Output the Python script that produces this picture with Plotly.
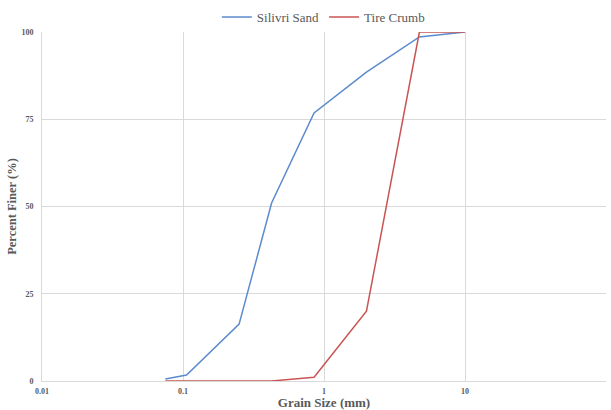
import plotly.graph_objects as go

# Data
sand_size = [0.075, 0.106, 0.25, 0.425, 0.85, 2.0, 4.75, 10]
sand_finer = [0.6, 1.7, 16.3, 51.0, 76.8, 88.5, 98.6, 100]
crumb_size = [0.075, 0.106, 0.25, 0.425, 0.85, 2.0, 4.75, 10]
crumb_finer = [0, 0, 0, 0, 1.1, 20.0, 100, 100]

x_ticks = [0.01, 0.1, 1, 10, 100]
x_ticktext = ["0.01", "0.1", "1", "10", "100"]
y_ticks = [0, 25, 50, 75, 100]
y_ticktext = ["0", "25", "50", "75", "100"]

font_family = "Liberation Serif, Times New Roman, serif"
grey = "#595959"

fig = go.Figure()
fig.add_trace(go.Scatter(x=sand_size, y=sand_finer, mode="lines", name="Silivri Sand",
                         line=dict(color="#5b8bcc", width=1.5)))
fig.add_trace(go.Scatter(x=crumb_size, y=crumb_finer, mode="lines", name="Tire Crumb",
                         line=dict(color="#c85553", width=1.5)))

fig.update_layout(
    width=611, height=410,
    margin=dict(l=42, r=5, t=32, b=29, autoexpand=False),
    paper_bgcolor="white", plot_bgcolor="white",
    font=dict(family=font_family, color=grey),
    legend=dict(orientation="h", x=0.31, xanchor="left", y=1.0, yanchor="bottom",
                font=dict(size=13, family=font_family, color=grey),
                itemwidth=30, tracegroupgap=0),
    showlegend=True,
)
fig.update_xaxes(type="log", range=[-2, 2], tickvals=x_ticks,
                 ticktext=["<b>%s</b>" % t for t in x_ticktext],
                 automargin=False,
                 showgrid=True, gridcolor="#d9d9d9", gridwidth=1,
                 showline=True, linecolor="#d9d9d9", zeroline=False,
                 ticks="", tickfont=dict(size=8, family=font_family, color=grey),
                 ticklabelstandoff=2,
                 title=dict(text="<b>Grain Size (mm)</b>", standoff=1,
                            font=dict(size=13, family=font_family, color=grey)))
fig.update_yaxes(range=[0, 100], tickvals=y_ticks,
                 ticktext=["<b>%s</b>" % t for t in y_ticktext],
                 automargin=False,
                 showgrid=True, gridcolor="#d9d9d9", gridwidth=1,
                 showline=True, linecolor="#d9d9d9", zeroline=False,
                 ticks="", tickfont=dict(size=8, family=font_family, color=grey),
                 ticklabelstandoff=6,
                 title=dict(text="<b>Percent Finer (%)</b>", standoff=2,
                            font=dict(size=12.5, family=font_family, color=grey)))

fig.write_html("out.html", config={"displayModeBar": False},
               post_script="document.body.style.margin='0';document.body.style.padding='0';")
